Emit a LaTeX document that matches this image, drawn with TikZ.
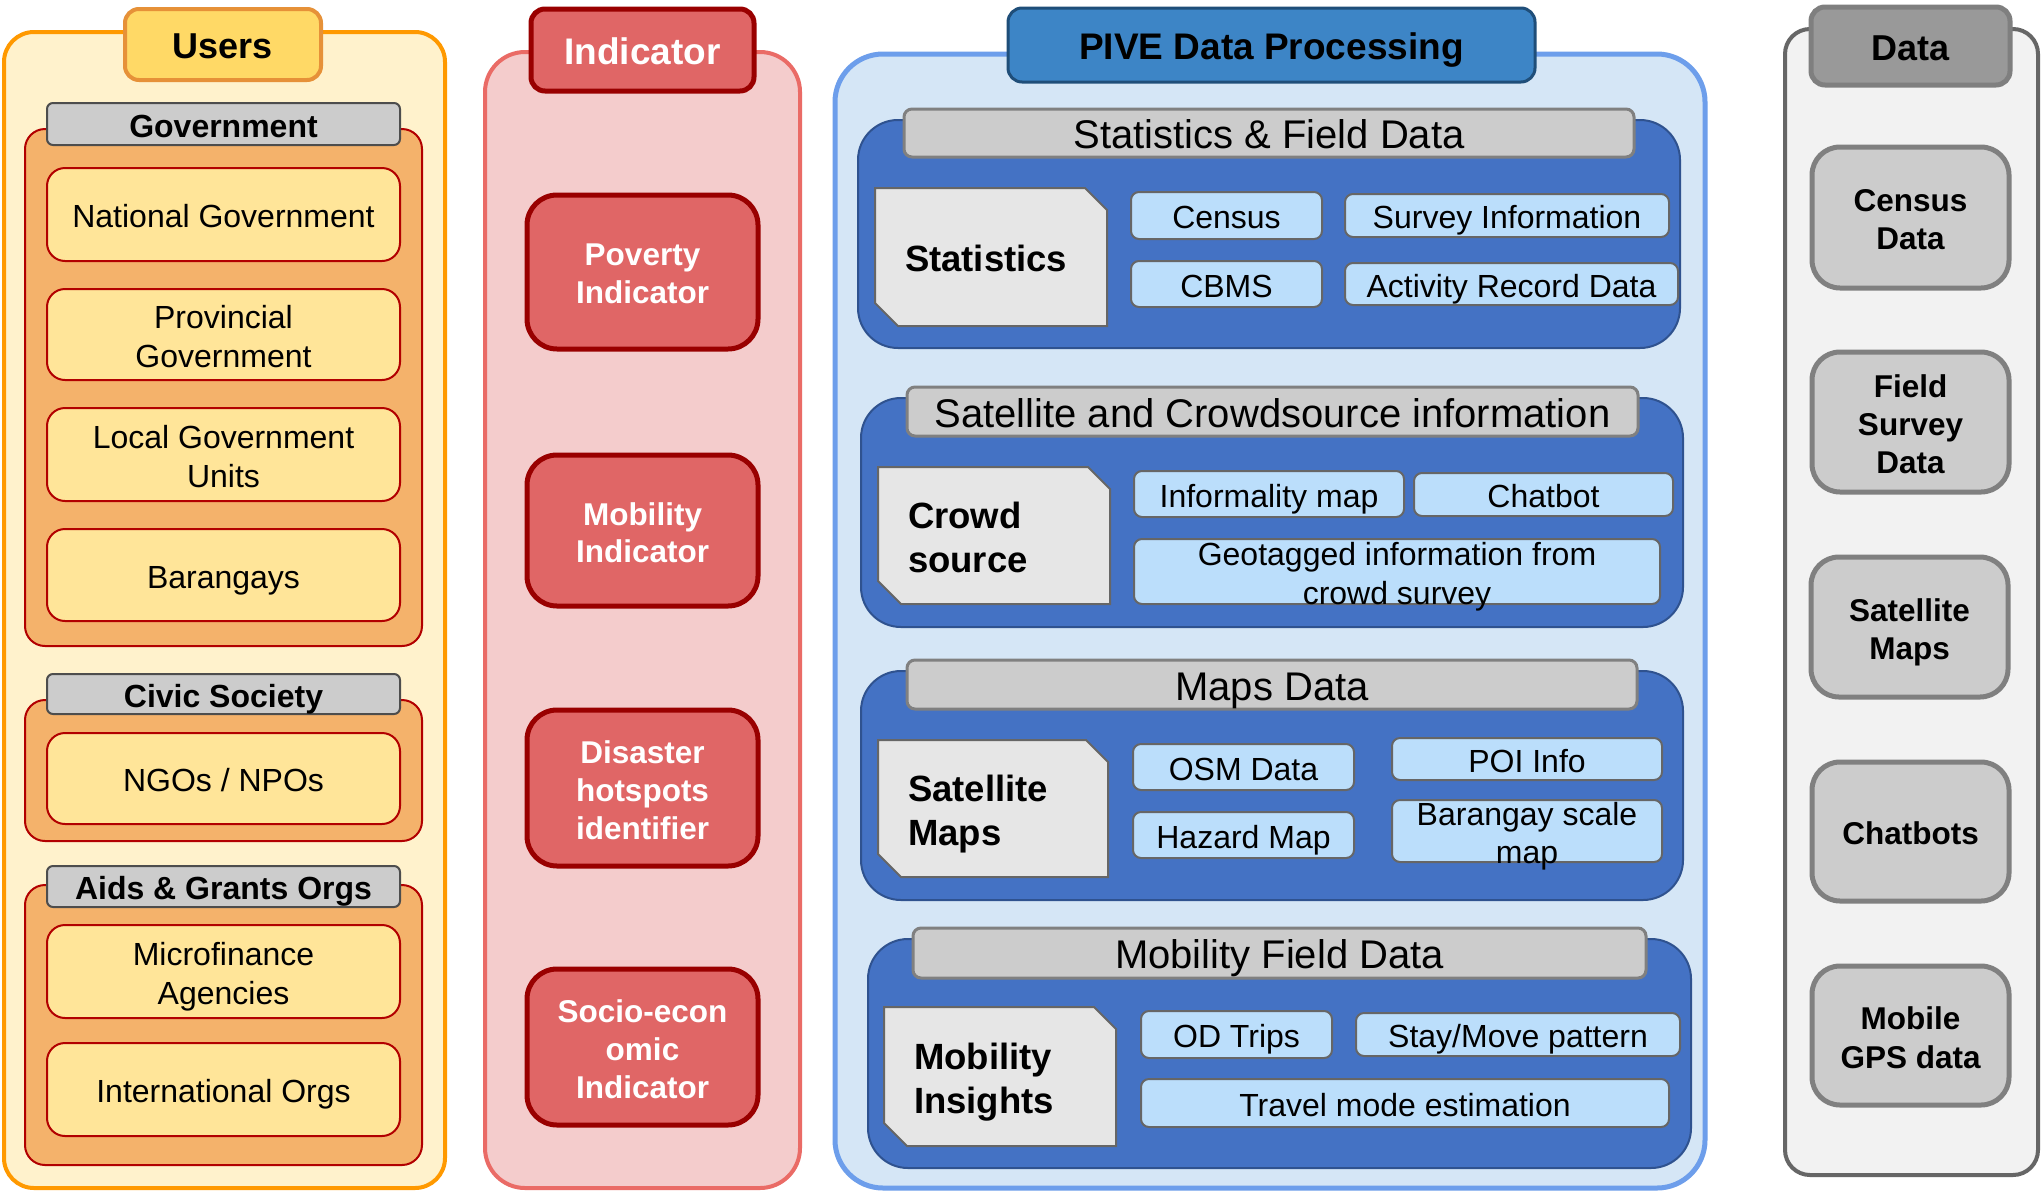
\documentclass[tikz,border=0pt]{standalone}
\usepackage{fontspec}
\setmainfont{Liberation Sans}
\newcommand\fsz[2]{\fontsize{#1pt}{#2pt}\selectfont}
\newcommand\st{\rule[-0.2535em]{0pt}{1.2em}}
\definecolor{usrOF}{HTML}{FFF2CC}
\definecolor{usrOD}{HTML}{FF9900}
\definecolor{usrTF}{HTML}{FFD966}
\definecolor{usrTD}{HTML}{E69138}
\definecolor{grpF}{HTML}{F4B26B}
\definecolor{grpD}{HTML}{B20000}
\definecolor{itemF}{HTML}{FFE599}
\definecolor{hdrF}{HTML}{CCCCCC}
\definecolor{hdrD}{HTML}{4D4D4D}
\definecolor{indOF}{HTML}{F4CCCC}
\definecolor{indOD}{HTML}{EA6B66}
\definecolor{indF}{HTML}{E06666}
\definecolor{indD}{HTML}{990000}
\definecolor{pvF}{HTML}{D5E6F6}
\definecolor{pvD}{HTML}{6D9EEB}
\definecolor{pvTF}{HTML}{3D85C6}
\definecolor{pvTD}{HTML}{1F4E79}
\definecolor{blF}{HTML}{4472C4}
\definecolor{blD}{HTML}{2F528F}
\definecolor{gr80}{HTML}{808080}
\definecolor{gr66}{HTML}{666666}
\definecolor{docF}{HTML}{E6E6E6}
\definecolor{smF}{HTML}{BBDEFB}
\definecolor{dOF}{HTML}{F2F2F2}
\definecolor{dTF}{HTML}{999999}
\definecolor{dTD}{HTML}{7F7F7F}
\definecolor{dIF}{HTML}{CCCCCC}
\tikzset{
 base/.style={inner sep=0pt, outer sep=0pt},
 txt/.style={base, yshift=-2pt, execute at begin node=\st, execute at end node=\st},
 ml/.style={yshift=-4pt},
 usrouter/.style={base, draw=usrOD, fill=usrOF, line width=4pt, rounded corners=30pt},
 usrtitle/.style={base, draw=usrTD, fill=usrTF, line width=4pt, rounded corners=14pt},
 usrtitle text/.style={txt, font=\fsz{36}{43.2}\bfseries},
 ugrp/.style={base, draw=grpD, fill=grpF, line width=2pt, rounded corners=20pt},
 uhdr/.style={base, draw=hdrD, fill=hdrF, line width=2pt, rounded corners=6pt},
 uhdr text/.style={txt, font=\fsz{32}{38.4}\bfseries},
 uitem/.style={base, draw=grpD, fill=itemF, line width=2pt, rounded corners=18pt},
 uitem text/.style={txt, align=center, font=\fsz{32}{38.4}},
 iouter/.style={base, draw=indOD, fill=indOF, line width=4pt, rounded corners=40pt},
 ititle/.style={base, draw=indD, fill=indF, line width=5pt, rounded corners=14pt},
 ititle text/.style={txt, text=white, font=\fsz{37}{44.4}\bfseries},
 iitem/.style={base, draw=indD, fill=indF, line width=5pt, rounded corners=30pt},
 iitem text/.style={txt, text=white, align=center, font=\fsz{31.5}{37.8}\bfseries},
 pouter/.style={base, draw=pvD, fill=pvF, line width=5pt, rounded corners=48pt},
 ptitle/.style={base, draw=pvTD, fill=pvTF, line width=3pt, rounded corners=14pt},
 ptitle text/.style={txt, font=\fsz{37}{44.4}\bfseries},
 bgrp/.style={base, draw=blD, fill=blF, line width=2pt, rounded corners=40pt},
 phdr/.style={base, draw=gr80, fill=hdrF, line width=3pt, rounded corners=8pt},
 phdr text/.style={txt, font=\fsz{40}{48}},
 sitem/.style={base, draw=gr66, fill=smF, line width=2pt, rounded corners=8pt},
 sitem text/.style={txt, align=center, font=\fsz{32}{38.4}},
 docshape/.style={draw=gr66, fill=docF, line width=2pt},
 doctext/.style={txt, align=left, font=\fsz{36.5}{43.8}\bfseries},
 douter/.style={base, draw=gr66, fill=dOF, line width=4pt, rounded corners=25pt},
 dtitle/.style={base, draw=dTD, fill=dTF, line width=5pt, rounded corners=14pt},
 dtitle text/.style={txt, font=\fsz{36}{43.2}\bfseries},
 ditem/.style={base, draw=gr80, fill=dIF, line width=5pt, rounded corners=28pt},
 ditem text/.style={txt, align=center, font=\fsz{31.5}{38.4}\bfseries},
}
% box node: style, name, x1, y1, x2, y2
\newcommand\boxnode[6]{\node[#1, anchor=north west, minimum width={(#5-#3)*1pt}, minimum height={(#6-#4)*1pt}] (#2) at (#3,#4) {};}
% box with text: [extra text options], style, name, x1, y1, x2, y2, text
\newcommand\bx[8][]{\boxnode{#2}{#3}{#4}{#5}{#6}{#7}\node[#2 text,#1] (#3t) at (#3.center) {#8};}
% document (chamfered) shape: [extra], name, x1, y1, x2, y2, text
\newcommand\docnode[7][]{%
 \node[base, anchor=north west, minimum width={(#5-#3)*1pt}, minimum height={(#6-#4)*1pt}] (#2) at (#3,#4) {};
 \draw[docshape] (#2.north west) -- ([xshift=-22pt]#2.north east) -- ([yshift=-22pt]#2.north east) -- (#2.south east) -- ([xshift=23pt]#2.south west) -- ([yshift=23pt]#2.south west) -- cycle;
 \node[doctext, anchor=west, #1] (#2t) at ([xshift=30pt]#2.west) {#7};}
\begin{document}
\begin{tikzpicture}[x=1pt,y=-1pt]
\path[fill=white, use as bounding box] (0,0) rectangle (2041,1192);
% ---------------- Users ----------------
\boxnode{usrouter}{users}{4}{32}{445}{1188}
\bx{usrtitle}{userstitle}{125}{9}{321}{80}{Users}
\boxnode{ugrp}{govgrp}{25}{129}{422}{646}
\bx{uhdr}{govhdr}{47}{103}{400}{145}{Government}
\bx{uitem}{natgov}{47}{168}{400}{261}{National Government}
\bx[ml]{uitem}{provgov}{47}{289}{400}{380}{Provincial\\Government}
\bx[ml]{uitem}{lgu}{47}{408}{400}{501}{Local Government\\Units}
\bx{uitem}{brgy}{47}{529}{400}{621}{Barangays}
\boxnode{ugrp}{civgrp}{25}{700}{422}{841}
\bx{uhdr}{civhdr}{47}{674}{400}{714}{Civic Society}
\bx{uitem}{ngo}{47}{733}{400}{824}{NGOs / NPOs}
\boxnode{ugrp}{aidgrp}{25}{885}{422}{1165}
\bx{uhdr}{aidhdr}{47}{866}{400}{907}{Aids \& Grants Orgs}
\bx[ml]{uitem}{micro}{47}{925}{400}{1018}{Microfinance\\Agencies}
\bx{uitem}{intl}{47}{1043}{400}{1136}{International Orgs}
% ---------------- Indicator ----------------
\boxnode{iouter}{ind}{485}{52}{800}{1188}
\bx{ititle}{indtitle}{531}{9}{754}{91}{Indicator}
\bx[ml]{iitem}{pov}{527}{195}{758}{349}{Poverty\\Indicator}
\bx[ml]{iitem}{mob}{527}{455}{758}{606}{Mobility\\Indicator}
\bx[ml]{iitem}{dis}{527}{710}{758}{866}{Disaster\\hotspots\\identifier}
\bx[ml]{iitem}{soc}{527}{969}{758}{1125}{Socio-econ\\omic\\Indicator}
% ---------------- PIVE ----------------
\boxnode{pouter}{pive}{835}{54}{1705}{1188}
\bx{ptitle}{pivetitle}{1008}{8}{1535}{82}{PIVE Data Processing}
% Statistics & Field Data
\boxnode{bgrp}{statgrp}{858}{120}{1680}{348}
\bx{phdr}{stathdr}{904}{109}{1634}{157}{Statistics \& Field Data}
\docnode{statdoc}{875}{188}{1107}{326}{Statistics}
\bx{sitem}{census}{1131}{192}{1322}{239}{Census}
\bx{sitem}{cbms}{1131}{261}{1322}{307}{CBMS}
\bx{sitem}{survey}{1345}{194}{1669}{237}{Survey Information}
\bx{sitem}{activity}{1345}{263}{1678}{305}{Activity Record Data}
% Satellite and Crowdsource
\boxnode{bgrp}{satgrp}{861}{398}{1683}{627}
\bx{phdr}{sathdr}{907}{387}{1638}{436}{Satellite and Crowdsource information}
\docnode[ml]{crowddoc}{878}{467}{1110}{604}{Crowd\\source}
\bx{sitem}{informal}{1134}{471}{1404}{517}{Informality map}
\bx{sitem}{chatbot}{1414}{473}{1673}{516}{Chatbot}
\bx[ml]{sitem}{geotag}{1134}{539}{1660}{604}{Geotagged information from\\crowd survey}
% Maps Data
\boxnode{bgrp}{mapgrp}{861}{671}{1683}{900}
\bx{phdr}{maphdr}{907}{660}{1637}{709}{Maps Data}
\docnode[ml]{satdoc}{878}{740}{1108}{877}{Satellite\\Maps}
\bx{sitem}{osm}{1133}{744}{1354}{790}{OSM Data}
\bx{sitem}{hazard}{1133}{812}{1354}{858}{Hazard Map}
\bx{sitem}{poi}{1392}{738}{1662}{780}{POI Info}
\bx[ml]{sitem}{brgymap}{1392}{800}{1662}{862}{Barangay scale\\map}
% Mobility Field Data
\boxnode{bgrp}{mobgrp}{868}{939}{1691}{1168}
\bx{phdr}{mobhdr}{913}{928}{1646}{978}{Mobility Field Data}
\docnode[ml]{mobdoc}{884}{1007}{1116}{1146}{Mobility\\Insights}
\bx{sitem}{od}{1141}{1011}{1332}{1058}{OD Trips}
\bx{sitem}{stay}{1356}{1013}{1680}{1056}{Stay/Move pattern}
\bx{sitem}{travel}{1141}{1079}{1669}{1127}{Travel mode estimation}
% ---------------- Data ----------------
\boxnode{douter}{data}{1785}{29}{2038}{1175}
\bx{dtitle}{datatitle}{1811}{7}{2010}{85}{Data}
\bx[ml]{ditem}{censusdata}{1812}{147}{2009}{288}{Census\\Data}
\bx[ml]{ditem}{fielddata}{1812}{352}{2009}{492}{Field\\Survey\\Data}
\bx[ml]{ditem}{satmaps}{1811}{557}{2008}{697}{Satellite\\Maps}
\bx{ditem}{chatbots}{1812}{762}{2009}{901}{Chatbots}
\bx[ml]{ditem}{gps}{1812}{966}{2009}{1105}{Mobile\\GPS data}
\end{tikzpicture}
\end{document}
